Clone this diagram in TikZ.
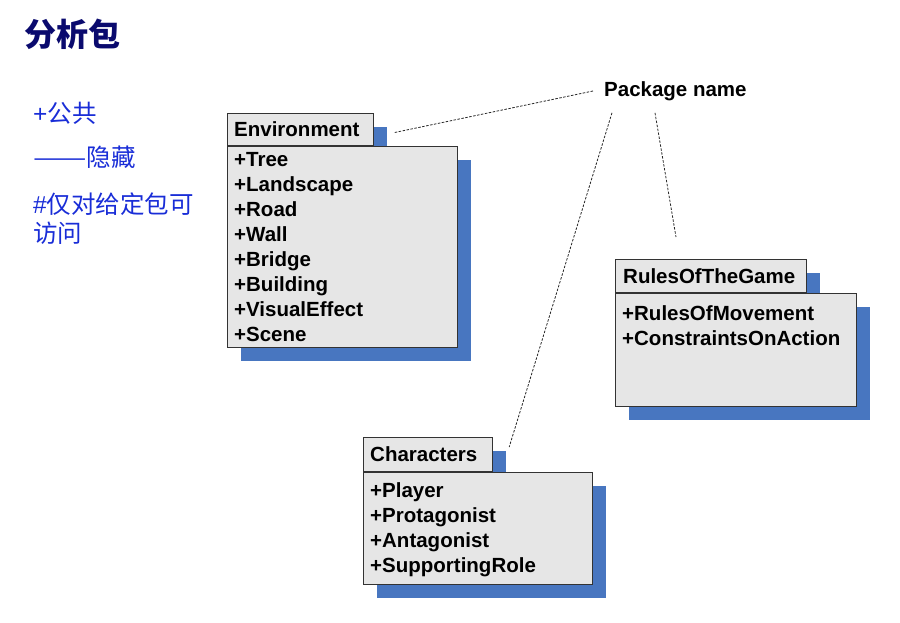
\documentclass[tikz,border=0pt]{standalone}
\usepackage{fontspec}
\setmainfont{Liberation Sans}
\newfontfamily\cjk{Noto Sans CJK SC}
\usetikzlibrary{positioning, shadows}

\definecolor{pkgblue}{RGB}{72,118,192}
\definecolor{pkggray}{RGB}{230,230,230}
\definecolor{titlenavy}{RGB}{10,10,110}
\definecolor{legendblue}{RGB}{25,45,215}

\tikzset{
  pkgshadow/.style={general shadow={fill=pkgblue, shadow xshift=13pt, shadow yshift=-13pt}},
  pkgbox/.style={draw=black!80, line width=1.2pt, fill=pkggray, pkgshadow, anchor=north west, inner sep=0pt},
  pkgtitle/.style={font=\bfseries\fontsize{20.5}{25}\selectfont, anchor=west, inner sep=0pt},
  pkgattr/.style={font=\bfseries\fontsize{20.5}{25}\selectfont, align=left, anchor=north west, inner sep=0pt},
  notelink/.style={draw=black!85, dash pattern=on 2.5pt off 1.5pt, line width=0.8pt},
  legend/.style={text=legendblue, anchor=west, inner sep=0pt, font=\cjk\fontsize{24.5}{29}\selectfont}
}

\begin{document}
\begin{tikzpicture}[x=1pt, y=-1pt]
  \useasboundingbox (0,0) rectangle (900,623);

  % title and legend
  \node[anchor=west, inner sep=0pt, text=titlenavy, font=\cjk\bfseries\fontsize{32}{36}\selectfont] (title) at (24,34) {分析包};
  \node[legend] (legpublic) at (33,113) {\rmfamily+\cjk 公共};
  \node[legend] (leghidden) at (33,157) {\scalebox{1.3}[1]{——}隐藏};
  \node[legend] (legpackage) at (33,204) {\rmfamily\#\cjk 仅对给定包可};
  \node[legend] (legaccess) at (33,233) {访问};

  % Environment
  \node[pkgbox, minimum width=146pt, minimum height=32pt] (envtab) at (227,113) {};
  \node[pkgbox, minimum width=230pt, minimum height=201pt] (envbody) at (envtab.south west) {};
  \node[pkgtitle] (envname) at ([xshift=7pt]envtab.west) {Environment};
  \node[pkgattr] (envattr) at ([xshift=7pt,yshift=-6pt]envbody.north west)
    {+Tree\\+Landscape\\+Road\\+Wall\\+Bridge\\+Building\\+VisualEffect\\+Scene};

  % RulesOfTheGame
  \node[pkgbox, minimum width=191pt, minimum height=33pt] (rulestab) at (615,259) {};
  \node[pkgbox, minimum width=241pt, minimum height=113pt] (rulesbody) at (rulestab.south west) {};
  \node[pkgtitle] (rulesname) at ([xshift=8pt]rulestab.west) {RulesOfTheGame};
  \node[pkgattr] (rulesattr) at ([xshift=7pt,yshift=-12pt]rulesbody.north west)
    {+RulesOfMovement\\+ConstraintsOnAction};

  % Characters
  \node[pkgbox, minimum width=129pt, minimum height=34pt] (chartab) at (363,437) {};
  \node[pkgbox, minimum width=229pt, minimum height=112pt] (charbody) at (chartab.south west) {};
  \node[pkgtitle] (charname) at ([xshift=7pt]chartab.west) {Characters};
  \node[pkgattr] (charattr) at ([xshift=7pt,yshift=-10pt]charbody.north west)
    {+Player\\+Protagonist\\+Antagonist\\+SupportingRole};

  % package name note
  \node[pkgtitle] (pkgname) at (604,91) {Package name};
  \coordinate (envnote) at ([xshift=20pt,yshift=-3pt]envtab.east);
  \coordinate (charnote) at ([xshift=16pt,yshift=-10pt]chartab.north east);
  \coordinate (rulesnote) at (676,237);
  \draw[notelink] ([xshift=-11pt]pkgname.west) -- (envnote);
  \draw[notelink] ([xshift=8pt,yshift=-12pt]pkgname.south west) -- (charnote);
  \draw[notelink] ([xshift=51pt,yshift=-12pt]pkgname.south west) -- (rulesnote);
\end{tikzpicture}
\end{document}
